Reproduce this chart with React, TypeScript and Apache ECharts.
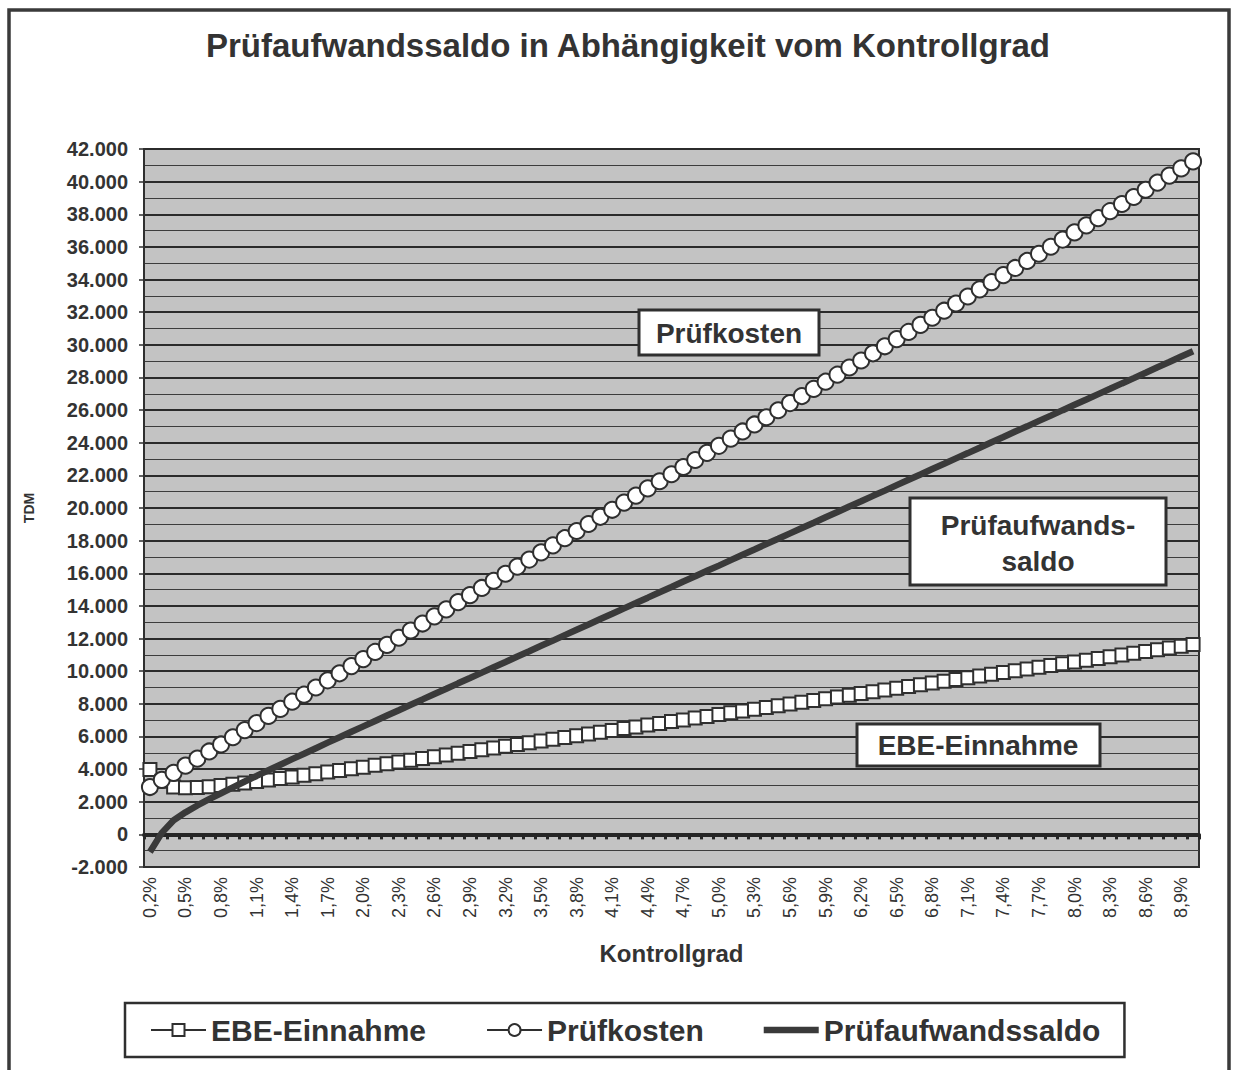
import React, { useEffect, useRef } from 'react';
import * as echarts from 'echarts';

const FONT = "'Liberation Sans', Arial, Helvetica, sans-serif";

const categories = [
  '0,2%', '0,3%', '0,4%', '0,5%', '0,6%', '0,7%', '0,8%', '0,9%',
  '1,0%', '1,1%', '1,2%', '1,3%', '1,4%', '1,5%', '1,6%', '1,7%', '1,8%', '1,9%',
  '2,0%', '2,1%', '2,2%', '2,3%', '2,4%', '2,5%', '2,6%', '2,7%', '2,8%', '2,9%',
  '3,0%', '3,1%', '3,2%', '3,3%', '3,4%', '3,5%', '3,6%', '3,7%', '3,8%', '3,9%',
  '4,0%', '4,1%', '4,2%', '4,3%', '4,4%', '4,5%', '4,6%', '4,7%', '4,8%', '4,9%',
  '5,0%', '5,1%', '5,2%', '5,3%', '5,4%', '5,5%', '5,6%', '5,7%', '5,8%', '5,9%',
  '6,0%', '6,1%', '6,2%', '6,3%', '6,4%', '6,5%', '6,6%', '6,7%', '6,8%', '6,9%',
  '7,0%', '7,1%', '7,2%', '7,3%', '7,4%', '7,5%', '7,6%', '7,7%', '7,8%', '7,9%',
  '8,0%', '8,1%', '8,2%', '8,3%', '8,4%', '8,5%', '8,6%', '8,7%', '8,8%', '8,9%',
  '9,0%',
];

const ebeEinnahme = [
  3980, 3250, 2900, 2860, 2870, 2920, 2990, 3070, 3150, 3240,
  3330, 3420, 3520, 3620, 3720, 3820, 3920, 4020, 4120, 4230,
  4330, 4440, 4545, 4650, 4760, 4865, 4975, 5080, 5190, 5295,
  5405, 5510, 5620, 5725, 5835, 5940, 6050, 6155, 6265, 6370,
  6480, 6585, 6695, 6800, 6910, 7015, 7125, 7230, 7340, 7445,
  7555, 7660, 7770, 7875, 7985, 8090, 8200, 8305, 8415, 8520,
  8630, 8735, 8845, 8950, 9060, 9165, 9275, 9380, 9490, 9595,
  9705, 9810, 9920, 10025, 10135, 10240, 10350, 10455, 10565, 10670,
  10780, 10885, 10995, 11100, 11210, 11315, 11425, 11530, 11640,
];

const pruefkosten = [
  2900, 3340, 3770, 4210, 4640, 5080, 5510, 5950, 6390, 6820,
  7260, 7690, 8130, 8560, 9000, 9440, 9870, 10310, 10740, 11180,
  11610, 12050, 12490, 12920, 13360, 13790, 14230, 14660, 15100, 15540,
  15970, 16410, 16840, 17280, 17710, 18150, 18590, 19020, 19460, 19890,
  20330, 20760, 21200, 21640, 22070, 22510, 22940, 23380, 23810, 24250,
  24690, 25120, 25560, 25990, 26430, 26860, 27300, 27740, 28170, 28610,
  29040, 29480, 29910, 30350, 30790, 31220, 31660, 32090, 32530, 32960,
  33400, 33840, 34270, 34710, 35140, 35580, 36010, 36450, 36890, 37320,
  37760, 38190, 38630, 39060, 39500, 39940, 40370, 40810, 41240,
];

const pruefaufwandssaldo = [
  -1080, 90, 870, 1350, 1770, 2160, 2520, 2880, 3240, 3580,
  3930, 4270, 4610, 4940, 5280, 5620, 5950, 6290, 6620, 6950,
  7280, 7610, 7945, 8270, 8600, 8925, 9255, 9580, 9910, 10245,
  10565, 10900, 11220, 11555, 11875, 12210, 12540, 12865, 13195, 13520,
  13850, 14175, 14505, 14840, 15160, 15495, 15815, 16150, 16470, 16805,
  17135, 17460, 17790, 18115, 18445, 18770, 19100, 19435, 19755, 20090,
  20410, 20745, 21065, 21400, 21730, 22055, 22385, 22710, 23040, 23365,
  23695, 24030, 24350, 24685, 25005, 25340, 25660, 25995, 26325, 26650,
  26980, 27305, 27635, 27960, 28290, 28625, 28945, 29280, 29600,
];

const seriesNames = ['EBE-Einnahme', 'Prüfkosten', 'Prüfaufwandssaldo'];
const titleText = 'Prüfaufwandssaldo in Abhängigkeit vom Kontrollgrad';

const fmt = (v: number) => {
  const s = Math.abs(v).toString().replace(/\B(?=(\d{3})+(?!\d))/g, '.');
  return (v < 0 ? '-' : '') + s;
};

const DARK = '#2f2f2f';
const TEXT = '#333333';

export default function App() {
  const ref = useRef<HTMLDivElement>(null);
  useEffect(() => {
    if (!ref.current) return;
    const chart = echarts.init(ref.current, null, { renderer: 'svg' });
    const option: any = {
      animation: false,
      backgroundColor: '#ffffff',
      textStyle: { fontFamily: FONT },
      grid: {
        left: 144, top: 149, width: 1055, height: 718,
        show: true, backgroundColor: '#c3c3c3', borderColor: DARK, borderWidth: 2,
        containLabel: false,
      },
      legend: {
        left: 125, top: 1003, orient: 'horizontal',
        padding: [12, 24, 12, 25], itemGap: 60, itemWidth: 55, itemHeight: 15,
        borderColor: DARK, borderWidth: 2.5, backgroundColor: '#ffffff',
        selectedMode: false,
        textStyle: { fontSize: 30, fontWeight: 'bold', color: TEXT, fontFamily: FONT },
        data: [
          { name: seriesNames[0] },
          { name: seriesNames[1] },
          { name: seriesNames[2], icon: 'path://M0 0H60V7H0Z' },
        ],
      },
      xAxis: [
        {
          type: 'category', data: categories, position: 'bottom', boundaryGap: true,
          axisLine: { onZero: false, show: true, lineStyle: { color: DARK, width: 2 } },
          axisTick: { show: false },
          axisLabel: { interval: 2, rotate: 90, fontSize: 18, color: TEXT, margin: 10, fontFamily: FONT },
          splitLine: { show: false },
          name: 'Kontrollgrad', nameLocation: 'middle', nameGap: 74,
          nameTextStyle: { fontSize: 24, fontWeight: 'bold', color: TEXT, fontFamily: FONT },
        },
        {
          type: 'category', data: categories, position: 'bottom', boundaryGap: true,
          axisLine: { onZero: true, show: true, lineStyle: { color: '#262626', width: 4 } },
          axisTick: { show: true, interval: 0, length: 5, lineStyle: { color: '#262626', width: 3 } },
          axisLabel: { show: false },
          splitLine: { show: false },
        },
      ],
      yAxis: {
        type: 'value', min: -2000, max: 42000, interval: 2000,
        axisLine: { show: true, lineStyle: { color: DARK, width: 2 } },
        axisTick: { show: true, length: 5, lineStyle: { color: DARK, width: 1.5 } },
        axisLabel: { fontSize: 20, fontWeight: 'bold', color: TEXT, margin: 16, formatter: fmt, fontFamily: FONT },
        splitLine: { show: true, lineStyle: { color: '#2b2b2b', width: 2 } },
        minorTick: { show: false, splitNumber: 2 },
        minorSplitLine: { show: true, lineStyle: { color: '#3c3c3c', width: 1.2 } },
        name: 'TDM', nameLocation: 'middle', nameGap: 108, nameRotate: 90,
        nameTextStyle: { fontSize: 14, fontWeight: 'bold', color: TEXT, fontFamily: FONT },
      },
      series: [
        {
          name: seriesNames[0], type: 'line', data: ebeEinnahme,
          symbol: 'rect', symbolSize: 13, showAllSymbol: true, z: 3,
          lineStyle: { color: DARK, width: 2 },
          itemStyle: { color: '#ffffff', borderColor: DARK, borderWidth: 2 },
          emphasis: { disabled: true },
        },
        {
          name: seriesNames[1], type: 'line', data: pruefkosten,
          symbol: 'circle', symbolSize: 16, showAllSymbol: true, z: 4,
          lineStyle: { color: DARK, width: 2 },
          itemStyle: { color: '#ffffff', borderColor: DARK, borderWidth: 2 },
          emphasis: { disabled: true },
        },
        {
          name: seriesNames[2], type: 'line', data: pruefaufwandssaldo,
          symbol: 'none', z: 5,
          lineStyle: { color: '#3a3a3a', width: 6.5 },
          itemStyle: { color: '#3a3a3a' },
          emphasis: { disabled: true },
        },
      ],
      graphic: [
        {
          type: 'rect', silent: true, z: 0,
          shape: { x: 9, y: 10, width: 1220, height: 1090 },
          style: { fill: 'none', stroke: '#3a3a3a', lineWidth: 3.5 },
        },
        {
          type: 'text', x: 628, y: 45, silent: true,
          style: {
            text: titleText, fontSize: 33, fontWeight: 'bold', fontFamily: FONT, fill: TEXT,
            align: 'center', verticalAlign: 'middle',
          },
        },
        {
          type: 'rect', silent: true, z: 100,
          shape: { x: 639, y: 310, width: 180, height: 45 },
          style: { fill: '#ffffff', stroke: DARK, lineWidth: 3 },
        },
        {
          type: 'text', x: 729, y: 333, silent: true, z: 101,
          style: {
            text: 'Prüfkosten', fontSize: 28, fontWeight: 'bold', fontFamily: FONT, fill: TEXT,
            align: 'center', verticalAlign: 'middle',
          },
        },
        {
          type: 'rect', silent: true, z: 100,
          shape: { x: 910, y: 498, width: 256, height: 87 },
          style: { fill: '#ffffff', stroke: DARK, lineWidth: 3 },
        },
        {
          type: 'text', x: 1038, y: 525, silent: true, z: 101,
          style: {
            text: 'Prüfaufwands-', fontSize: 28, fontWeight: 'bold', fontFamily: FONT, fill: TEXT,
            align: 'center', verticalAlign: 'middle',
          },
        },
        {
          type: 'text', x: 1038, y: 561, silent: true, z: 101,
          style: {
            text: 'saldo', fontSize: 28, fontWeight: 'bold', fontFamily: FONT, fill: TEXT,
            align: 'center', verticalAlign: 'middle',
          },
        },
        {
          type: 'rect', silent: true, z: 100,
          shape: { x: 857, y: 724, width: 243, height: 42 },
          style: { fill: '#ffffff', stroke: DARK, lineWidth: 3 },
        },
        {
          type: 'text', x: 978, y: 745, silent: true, z: 101,
          style: {
            text: 'EBE-Einnahme', fontSize: 28, fontWeight: 'bold', fontFamily: FONT, fill: TEXT,
            align: 'center', verticalAlign: 'middle',
          },
        },
      ],
    };
    chart.setOption(option);
    return () => chart.dispose();
  }, []);
  return (
    <div
      ref={ref}
      style={{ position: 'absolute', left: 0, top: 0, width: 1233, height: 1070, background: '#ffffff' }}
    />
  );
}
